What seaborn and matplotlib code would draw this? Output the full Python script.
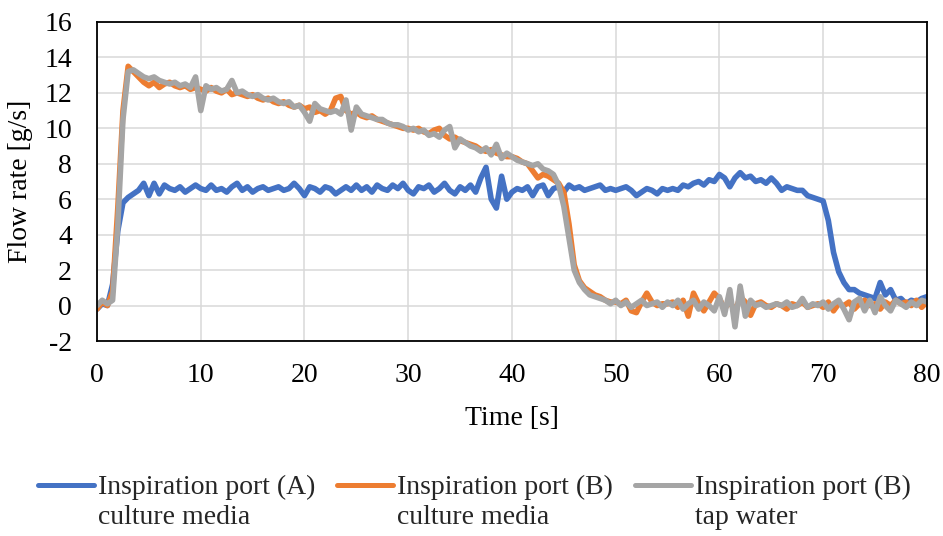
import numpy as np
import pandas as pd
import matplotlib
matplotlib.use("Agg")
import matplotlib.pyplot as plt
import seaborn as sns
from matplotlib.legend_handler import HandlerLine2D

# sampling grid of the recording (0.5 s)
time_s = np.arange(0, 80.5, 0.5)

# Inspiration port (A), culture media
port_a_culture = [
    -0.2, 0.1, 0.0, 1.2, 4.2, 5.8, 6.1, 6.3, 6.5, 6.9,
    6.2, 6.9, 6.3, 6.8, 6.6, 6.5, 6.7, 6.4, 6.6, 6.8,
    6.6, 6.5, 6.8, 6.5, 6.6, 6.4, 6.7, 6.9, 6.5, 6.7,
    6.4, 6.6, 6.7, 6.5, 6.6, 6.7, 6.5, 6.6, 6.9, 6.6,
    6.2, 6.7, 6.6, 6.4, 6.7, 6.6, 6.3, 6.5, 6.7, 6.5,
    6.8, 6.5, 6.7, 6.4, 6.8, 6.6, 6.5, 6.8, 6.6, 6.9,
    6.5, 6.3, 6.7, 6.6, 6.8, 6.4, 6.6, 6.9, 6.5, 6.3,
    6.7, 6.5, 6.8, 6.4, 7.2, 7.8, 6.0, 5.5, 7.3, 6.0,
    6.4, 6.6, 6.5, 6.7, 6.2, 6.7, 6.8, 6.2, 6.6, 6.7,
    6.4, 6.8, 6.6, 6.7, 6.5, 6.6, 6.7, 6.8, 6.5, 6.6,
    6.5, 6.6, 6.7, 6.5, 6.2, 6.4, 6.6, 6.5, 6.3, 6.6,
    6.5, 6.6, 6.5, 6.8, 6.7, 6.9, 7.0, 6.8, 7.1, 7.0,
    7.4, 7.2, 6.7, 7.2, 7.5, 7.2, 7.3, 7.0, 7.1, 6.9,
    7.2, 6.9, 6.5, 6.7, 6.6, 6.5, 6.5, 6.2, 6.1, 6.0,
    5.9, 4.8, 3.0, 1.9, 1.3, 0.9, 0.9, 0.7, 0.6, 0.5,
    0.4, 1.3, 0.6, 0.9, 0.3, 0.4, 0.1, 0.3, 0.2, 0.4,
    0.5,
]

# Inspiration port (B), culture media
port_b_culture = [
    -0.2, 0.2, 0.0, 0.8, 5.5, 11.0, 13.5, 13.2, 12.9, 12.6,
    12.4, 12.6, 12.3, 12.5, 12.6, 12.4, 12.3, 12.4, 12.2, 12.3,
    12.2, 12.1, 12.3, 12.1, 12.0, 12.2, 11.9, 12.0, 11.9, 11.8,
    11.9, 11.7, 11.6, 11.7, 11.5, 11.4, 11.5, 11.3, 11.2, 11.3,
    11.1, 11.2, 10.9, 11.0, 10.8, 11.0, 11.7, 11.8, 11.0, 10.8,
    10.9, 10.7, 10.6, 10.7, 10.5, 10.4, 10.3, 10.2, 10.1, 10.0,
    10.0, 9.9, 10.0, 9.8, 9.7, 9.9, 10.0, 9.6, 9.4, 9.5,
    9.3, 9.2, 9.1, 9.0, 8.8, 8.7, 8.8, 8.6, 8.5, 8.4,
    8.4, 8.3, 8.1, 8.0, 7.6, 7.2, 7.4, 7.3, 7.1, 6.9,
    6.4, 4.6, 2.3, 1.4, 1.0, 0.8, 0.6, 0.5, 0.3, 0.2,
    0.2, 0.1, 0.3, -0.3, -0.4, 0.2, 0.7, 0.2, 0.0, 0.1,
    0.1, 0.2, -0.1, 0.3, -0.6, 0.7, 0.1, -0.3, 0.2, 0.7,
    0.4, -0.2, 0.3, -0.4, 0.5, 0.2, -0.55, 0.1, 0.2, 0.0,
    -0.1, 0.1, 0.0, -0.2, 0.1, 0.0, 0.2, -0.1, 0.0, 0.1,
    -0.1, 0.2, -0.3, 0.1, 0.0, 0.2, -0.2, 0.1, 0.3, 0.0,
    0.1, -0.2, 0.2, 0.0, 0.3, 0.1, 0.2, 0.0, 0.3, -0.1,
    0.2,
]

# Inspiration port (B), tap water
port_b_tap = [
    0.0, 0.3, 0.1, 0.3, 4.5, 10.5, 13.2, 13.3, 13.1, 12.9,
    12.8, 12.9, 12.7, 12.6, 12.5, 12.6, 12.4, 12.5, 12.3, 12.9,
    11.0, 12.4, 12.2, 12.3, 12.1, 12.2, 12.7, 12.0, 12.1, 11.9,
    11.8, 11.9, 11.7, 11.6, 11.7, 11.5, 11.4, 11.5, 11.2, 11.3,
    10.9, 10.4, 11.4, 11.1, 11.0, 10.9, 11.0, 10.8, 11.6, 9.9,
    11.2, 10.8, 10.7, 10.6, 10.5, 10.5, 10.3, 10.2, 10.2, 10.1,
    9.9, 10.0, 9.8, 9.9, 9.6, 9.7, 9.5, 9.9, 10.1, 8.9,
    9.4, 9.2, 9.0, 8.9, 8.7, 8.9, 8.5, 9.1, 8.3, 8.6,
    8.4, 8.2, 8.1, 8.0, 7.9, 8.0, 7.7, 7.6, 7.4, 6.8,
    5.6, 3.8, 2.0, 1.3, 0.9, 0.6, 0.5, 0.4, 0.3, 0.1,
    0.3, 0.0, 0.2, -0.1, 0.1, 0.3, 0.0, 0.1, 0.2, -0.1,
    0.2, 0.0, 0.3, -0.2, 0.1, 0.3, -0.2, 0.2, 0.0, -0.3,
    0.5, -0.5, 0.9, -1.2, 1.1, -0.6, 0.3, 0.0, 0.1, -0.1,
    0.0, 0.1, 0.0, 0.2, -0.1, 0.0, 0.4, -0.1, 0.1, 0.0,
    0.2, -0.2, 0.1, 0.3, -0.2, -0.8, 0.2, 0.4, -0.3, 0.3,
    -0.4, 0.5, 0.0, -0.3, 0.3, 0.1, -0.1, 0.2, 0.0, 0.3,
    0.2,
]

series_labels = [
    "Inspiration port (A)\nculture media",
    "Inspiration port (B)\nculture media",
    "Inspiration port (B)\ntap water",
]
series_colors = ["#4472C4", "#ED7D31", "#A5A5A5"]

df = pd.concat([
    pd.DataFrame({"time": time_s, "flow": vals, "series": lab})
    for vals, lab in zip([port_a_culture, port_b_culture, port_b_tap], series_labels)
])

sns.set_theme(style="white")
plt.rcParams["font.family"] = ["Liberation Serif", "DejaVu Serif"]
plt.rcParams["font.size"] = 20
plt.rcParams["axes.unicode_minus"] = False


class FirstLineHandler(HandlerLine2D):
    # put the legend line next to the first text line, like Excel does
    def create_artists(self, legend, orig_handle, xdescent, ydescent,
                       width, height, fontsize, trans):
        arts = super().create_artists(legend, orig_handle, xdescent, ydescent,
                                      width, height, fontsize, trans)
        for a in arts:
            a.set_ydata(np.asarray(a.get_ydata()) + 0.62 * fontsize)
        return arts


fig = plt.figure(figsize=(9.43, 5.36), dpi=100)
ax = fig.add_axes([0.1029, 0.3638, 0.880, 0.5952])

sns.lineplot(data=df, x="time", y="flow", hue="series", palette=series_colors,
             estimator=None, linewidth=4.0, ax=ax)

ax.set_xlim(0, 80)
ax.set_ylim(-2, 16)
ax.set_xticks(range(0, 81, 10))
ax.set_yticks(range(-2, 17, 2))
ax.grid(True, color="#D9D9D9", linewidth=1.1)
ax.set_axisbelow(True)
for sp in ax.spines.values():
    sp.set_color("black")
    sp.set_linewidth(1.3)
ax.tick_params(axis="both", length=0, labelsize=20, colors="black")
ax.tick_params(axis="y", pad=18)
ax.tick_params(axis="x", pad=16)
ax.set_xlabel("Time [s]", fontsize=20, color="black", labelpad=13)
ax.set_ylabel("Flow rate [g/s]", fontsize=20, color="black", labelpad=8)

handles, labels = ax.get_legend_handles_labels()
ax.get_legend().remove()
leg = fig.legend(handles, labels, loc="upper center", bbox_to_anchor=(0.503, 0.16),
                 ncol=3, frameon=False, fontsize=20, handlelength=2.0,
                 handletextpad=0.15, columnspacing=0.8,
                 handler_map={matplotlib.lines.Line2D: FirstLineHandler()})
for t in leg.get_texts():
    t.set_linespacing(1.22)
for h in leg.legend_handles:
    h.set_linewidth(3.6)

fig.savefig("out.png", dpi=100)
